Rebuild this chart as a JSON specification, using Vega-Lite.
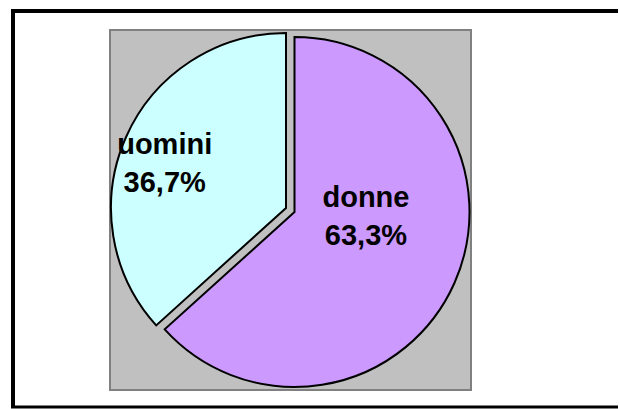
{
  "$schema": "https://vega.github.io/schema/vega-lite/v6.json",
  "autosize": {"type": "none"},
  "padding": {"left": 110, "top": 30, "right": 148, "bottom": 19},
  "width": 361,
  "height": 360,
  "background": "#ffffff",
  "view": {"fill": "#C0C0C0", "stroke": "#808080", "strokeWidth": 2},
  "data": {"values": [
    {"sesso": "donne", "pct": 63.3, "testo": "donne\n63,3%"},
    {"sesso": "uomini", "pct": 36.7, "testo": "uomini\n36,7%"}
  ]},
  "transform": [{"stack": "pct", "groupby": [], "as": ["p0", "p1"]}],
  "layer": [
    {
      "mark": {"type": "rule", "stroke": "#000000", "strokeWidth": 4, "xOffset": -99, "x2Offset": 147, "yOffset": -19, "clip": false},
      "transform": [{"filter": "datum.sesso === 'donne'"}],
      "encoding": {"x": {"value": 0}, "x2": {"value": "width"}, "y": {"value": 0}}
    },
    {
      "mark": {"type": "rule", "stroke": "#000000", "strokeWidth": 3, "xOffset": -99, "x2Offset": 147, "yOffset": 17, "clip": false},
      "transform": [{"filter": "datum.sesso === 'donne'"}],
      "encoding": {"x": {"value": 0}, "x2": {"value": "width"}, "y": {"value": "height"}}
    },
    {
      "mark": {"type": "rule", "stroke": "#000000", "strokeWidth": 4, "xOffset": -97, "yOffset": -21, "y2Offset": 18, "clip": false},
      "transform": [{"filter": "datum.sesso === 'donne'"}],
      "encoding": {"x": {"value": 0}, "y": {"value": 0}, "y2": {"value": "height"}}
    },
    {
      "mark": {"type": "arc", "radius": 175, "stroke": "#000000", "strokeWidth": 2, "xOffset": 4, "yOffset": 2},
      "transform": [{"filter": "datum.sesso === 'donne'"}],
      "encoding": {
        "theta": {"field": "p0", "type": "quantitative", "scale": {"domain": [0, 100]}},
        "theta2": {"field": "p1"},
        "fill": {"field": "sesso", "type": "nominal", "scale": {"domain": ["donne", "uomini"], "range": ["#CC99FF", "#CCFFFF"]}, "legend": null}
      }
    },
    {
      "mark": {"type": "arc", "radius": 175, "stroke": "#000000", "strokeWidth": 2, "xOffset": -4.5, "yOffset": -2},
      "transform": [{"filter": "datum.sesso === 'uomini'"}],
      "encoding": {
        "theta": {"field": "p0", "type": "quantitative", "scale": {"domain": [0, 100]}},
        "theta2": {"field": "p1"},
        "fill": {"field": "sesso", "type": "nominal", "scale": {"domain": ["donne", "uomini"], "range": ["#CC99FF", "#CCFFFF"]}, "legend": null}
      }
    },
    {
      "mark": {"type": "text", "radius": 76, "dx": 6, "dy": -43, "font": "Liberation Sans", "fontWeight": "bold", "fontSize": 29, "lineHeight": 38, "lineBreak": "\n", "align": "center", "baseline": "middle", "color": "#000000"},
      "encoding": {
        "theta": {"field": "pct", "type": "quantitative", "stack": true, "sort": null, "scale": {"domain": [0, 100]}},
        "order": {"field": "p0", "type": "quantitative"},
        "text": {"field": "testo", "type": "nominal"},
        "opacity": {"condition": {"test": "datum.sesso === 'donne'", "value": 1}, "value": 0}
      }
    },
    {
      "mark": {"type": "text", "radius": 130, "dx": -7, "dy": -12, "font": "Liberation Sans", "fontWeight": "bold", "fontSize": 29, "lineHeight": 38, "lineBreak": "\n", "align": "center", "baseline": "middle", "color": "#000000"},
      "encoding": {
        "theta": {"field": "pct", "type": "quantitative", "stack": true, "sort": null, "scale": {"domain": [0, 100]}},
        "order": {"field": "p0", "type": "quantitative"},
        "text": {"field": "testo", "type": "nominal"},
        "opacity": {"condition": {"test": "datum.sesso === 'uomini'", "value": 1}, "value": 0}
      }
    }
  ],
  "config": {
    "view": {"fill": "#C0C0C0", "stroke": "#808080", "strokeWidth": 2}
  }
}
